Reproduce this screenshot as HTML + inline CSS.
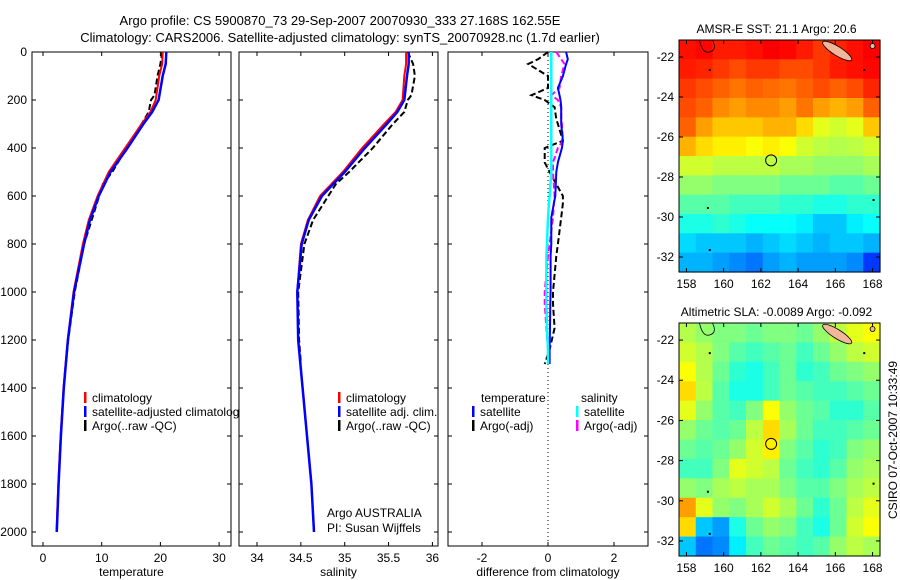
<!DOCTYPE html>
<html><head><meta charset="utf-8"><style>
body{margin:0;background:#fff;}
svg{display:block;font-family:"Liberation Sans",sans-serif;font-size:12px;}
</style></head><body>
<svg id="fig" width="900" height="580" viewBox="0 0 900 580">
<rect x="0" y="0" width="900" height="580" fill="#fff"/>
<text x="340" y="25" text-anchor="middle" font-size="13">Argo profile: CS 5900870_73 29-Sep-2007 20070930_333 27.168S 162.55E</text>
<text x="340" y="42" text-anchor="middle" font-size="13">Climatology: CARS2006. Satellite-adjusted climatology: synTS_20070928.nc (1.7d earlier)</text>
<text transform="translate(897,440) rotate(-90)" text-anchor="middle" font-size="12">CSIRO 07-Oct-2007 10:33:49</text>
<g id="g"></g>
</svg>
<script>
// ---- data ----
const depthTicks=[0,200,400,600,800,1000,1200,1400,1600,1800,2000];
const tempTicks=[0,10,20,30];
const salTicks=[34,34.5,35,35.5,36];
const salTickLabels=["34","34.5","35","35.5","36"];
const diffTicks=[-2,0,2];
const latTicks=[-22,-24,-26,-28,-30,-32];
const lonTicks=[158,160,162,164,166,168];

const climDepth=[0,50,100,200,250,300,400,500,600,700,800,1000,1200,1400,1600,1800,2000];
const tempClim=[20.4,20.3,19.8,19.2,18.3,16.8,14.0,11.2,9.3,7.8,6.8,5.2,4.2,3.5,3.0,2.6,2.3];
const tempSat=[21.0,20.9,20.4,19.7,18.6,17.1,14.4,11.5,9.5,8.0,7.0,5.3,4.25,3.55,3.05,2.65,2.35];
const argoDepth=[0,50,100,180,200,250,300,400,500,550,700,800,1000,1200,1300];
const tempArgo=[20.3,20.0,19.5,19.0,18.4,18.0,16.8,14.2,11.8,10.2,8.3,7.0,5.4,4.3,3.9];
const salClim=[35.70,35.70,35.68,35.66,35.58,35.45,35.20,34.98,34.72,34.58,34.50,34.46,34.47,34.52,34.57,34.62,34.65];
const salSat=[35.73,35.73,35.71,35.68,35.60,35.48,35.23,35.00,34.74,34.59,34.51,34.46,34.47,34.52,34.57,34.62,34.65];
const salArgo=[35.72,35.78,35.80,35.76,35.72,35.68,35.55,35.32,35.05,34.90,34.64,34.54,34.47,34.48,34.50];

const diffDepth=[0,30,50,100,150,180,200,230,280,300,370,400,460,500,600,630,690,800,850,1000,1050,1150,1240,1300];
const dTempSat=[0.55,0.6,0.55,0.45,0.3,0.35,0.38,0.4,0.4,0.4,0.45,0.42,0.3,0.25,0.22,0.18,0.1,0.1,0.08,0.08,0.07,0.06,0.05,0.05];
const dTempArgo=[0,-0.3,-0.6,0,0,-0.5,-0.1,0.2,0.25,0.3,0.45,-0.1,-0.1,0.05,0.45,0.45,0.4,0.3,0.25,0.15,0.15,0.2,0.05,-0.1];
const dSalSat=[0.1,0.1,0.1,0.1,0.1,0.1,0.1,0.1,0.1,0.1,0.1,0.1,0.1,0.1,0.05,0.03,0,-0.03,-0.05,-0.05,-0.05,-0.03,0,0];
const dSalArgo=[0.25,0.4,0.5,0.4,0.35,0.1,0.3,0.4,0.4,0.42,0.45,0.3,0.15,0.15,0.2,0.18,0.15,0.05,0,-0.1,-0.1,-0.05,0,0];

const sstGrid=[
[.86,.87,.85,.85,.86,.88,.87,.85,.82,.84,.86,.88],
[.85,.84,.82,.80,.82,.82,.80,.80,.82,.85,.86,.87],
[.82,.80,.78,.76,.78,.77,.76,.78,.80,.78,.80,.84],
[.80,.78,.74,.72,.74,.74,.72,.76,.72,.70,.72,.78],
[.78,.72,.68,.68,.68,.70,.70,.66,.60,.58,.60,.68],
[.70,.66,.64,.64,.62,.64,.62,.58,.56,.55,.56,.58],
[.58,.58,.56,.56,.56,.56,.54,.54,.52,.52,.52,.54],
[.52,.52,.50,.50,.50,.50,.48,.48,.48,.46,.46,.48],
[.46,.46,.46,.44,.44,.44,.42,.42,.40,.40,.42,.42],
[.40,.40,.42,.40,.38,.38,.38,.36,.32,.32,.36,.38],
[.34,.32,.32,.32,.30,.32,.34,.32,.30,.32,.32,.30],
[.30,.30,.28,.26,.24,.28,.30,.28,.28,.28,.26,.18]];
const slaGrid=[
[.55,.52,.50,.50,.48,.50,.50,.48,.52,.56,.60,.62],
[.58,.55,.50,.46,.44,.46,.48,.44,.48,.52,.56,.58],
[.62,.55,.48,.42,.40,.44,.48,.42,.44,.48,.50,.52],
[.66,.56,.46,.40,.40,.44,.48,.46,.44,.44,.46,.48],
[.60,.52,.46,.44,.50,.62,.52,.48,.46,.42,.42,.46],
[.52,.48,.46,.48,.56,.66,.54,.48,.44,.44,.46,.48],
[.48,.46,.48,.52,.58,.64,.50,.46,.42,.44,.50,.52],
[.44,.44,.50,.60,.58,.56,.48,.44,.42,.46,.52,.54],
[.52,.50,.54,.56,.54,.54,.50,.46,.46,.50,.54,.56],
[.72,.60,.52,.50,.54,.58,.54,.48,.42,.48,.56,.60],
[.66,.32,.28,.40,.48,.52,.50,.44,.40,.48,.58,.62],
[.32,.24,.26,.36,.44,.48,.46,.44,.46,.52,.56,.54]];
const floatLon=162.55, floatLat=-27.17;

// ---- drawing ----
const NS='http://www.w3.org/2000/svg';
const G=document.getElementById('g');
function el(tag,attrs,parent){const e=document.createElementNS(NS,tag);for(const k in attrs)e.setAttribute(k,attrs[k]);(parent||G).appendChild(e);return e;}
const PT=52,PB=546;
const yD=d=>PT+d*0.24;
const xT=v=>43+v*5.87;
const xS=v=>257+(v-34)*87.7;
const xDf=v=>548+v*33;

function panel(name,x0,x1,ticks,labels,xf,title){
  const g=el('g',{});
  
  
  const r=el('rect',{x:x0,y:PT,width:x1-x0,height:PB-PT,fill:'#fff',stroke:'#000','stroke-width':1},g);
  
  
  depthTicks.forEach(d=>{
    el('line',{x1:x0,x2:x0+4,y1:yD(d),y2:yD(d),stroke:'#000'},g);
    el('line',{x1:x1-4,x2:x1,y1:yD(d),y2:yD(d),stroke:'#000'},g);
  });
  ticks.forEach((t,i)=>{
    const x=xf(t);
    el('line',{x1:x,x2:x,y1:PB,y2:PB-4,stroke:'#000'},g);
    el('line',{x1:x,x2:x,y1:PT,y2:PT+4,stroke:'#000'},g);
    const tx=el('text',{x:x,y:562,'text-anchor':'middle'},g);tx.textContent=labels[i];
    
    
  });
  const tt=el('text',{x:(x0+x1)/2,y:576,'text-anchor':'middle'},g);tt.textContent=title;
  
  
  return g;
}
function line(g,xs,ds,xf,color,w,dash,name){
  const pts=xs.map((v,i)=>xf(v).toFixed(1)+','+yD(ds[i]).toFixed(1)).join(' ');
  const p=el('polyline',{points:pts,fill:'none',stroke:color,'stroke-width':w},g);
  if(dash)p.setAttribute('stroke-dasharray',dash);
  
  
}
function legend(g,x,y,color,text,name){
  el('rect',{x:x,y:y-6,width:2.5,height:11,fill:color},g);
  const t=el('text',{x:x+8,y:y+4},g);t.textContent=text;
  
  
}

// Depth labels
depthTicks.forEach(d=>{const t=el('text',{x:27,y:yD(d)+4,'text-anchor':'end'});t.textContent=d;
  
  });

// Panel 1
const p1=panel('temperature-panel',32,231,tempTicks,tempTicks.map(String),xT,'temperature');
line(p1,tempArgo,argoDepth,xT,'#000',2,'6,3','argo-temperature-line');
line(p1,tempClim,climDepth,xT,'#f00',2,null,'climatology-temperature-line');
line(p1,tempSat,climDepth,xT,'#00f',2.5,null,'satellite-temperature-line');
legend(p1,84,398,'#f00','climatology','legend-climatology');
legend(p1,84,412,'#00f','satellite-adjusted climatology','legend-satellite');
legend(p1,84,426,'#000','Argo(..raw -QC)','legend-argo');
// Panel 2
const p2=panel('salinity-panel',239,438,salTicks,salTickLabels,xS,'salinity');
line(p2,salArgo,argoDepth,xS,'#000',2,'6,3','argo-salinity-line');
line(p2,salClim,climDepth,xS,'#f00',2,null,'climatology-salinity-line');
line(p2,salSat,climDepth,xS,'#00f',2.5,null,'satellite-salinity-line');
legend(p2,338,398,'#f00','climatology','legend-climatology');
legend(p2,338,412,'#00f','satellite adj. clim.','legend-satellite');
legend(p2,338,426,'#000','Argo(..raw -QC)','legend-argo');
const a1=el('text',{x:327,y:517},p2);a1.textContent='Argo AUSTRALIA';


const a2=el('text',{x:327,y:532},p2);a2.textContent='PI: Susan Wijffels';


// Panel 3
const p3=panel('difference-panel',448,648,diffTicks,diffTicks.map(String),xDf,'difference from climatology');
el('line',{x1:xDf(0),x2:xDf(0),y1:PT,y2:PB,stroke:'#000','stroke-dasharray':'1,3'},p3);
line(p3,dTempArgo,diffDepth,xDf,'#000',2,'6,3','argo-temp-diff-line');
line(p3,dSalArgo,diffDepth,xDf,'#f0f',2,'6,3','argo-sal-diff-line');
line(p3,dTempSat,diffDepth,xDf,'#00f',2,null,'satellite-temp-diff-line');
line(p3,dSalSat,diffDepth,xDf,'#0ff',2.5,null,'satellite-sal-diff-line');
const lt=el('text',{x:481,y:402},p3);lt.textContent='temperature';


const ls=el('text',{x:581,y:402},p3);ls.textContent='salinity';


legend(p3,472,412,'#00f','satellite','legend-temp-satellite');
legend(p3,472,426,'#000','Argo(-adj)','legend-temp-argo');
legend(p3,576,412,'#0ff','satellite','legend-sal-satellite');
legend(p3,576,426,'#f0f','Argo(-adj)','legend-sal-argo');

// Maps
function jet(v){
  const c=x=>Math.max(0,Math.min(1,x));
  const r=c(1.5-Math.abs(4*v-3)),g=c(1.5-Math.abs(4*v-2)),b=c(1.5-Math.abs(4*v-1));
  return `rgb(${Math.round(r*255)},${Math.round(g*255)},${Math.round(b*255)})`;
}
function map(name,top,bottom,grid,title){
  const L=679,R=880,lon0=157.6,lon1=168.4,lat0=-21.15,lat1=-32.75;
  const mx=lo=>L+(lo-lon0)/(lon1-lon0)*(R-L);
  const my=la=>top+(la-lat0)/(lat1-lat0)*(bottom-top);
  const g=el('g',{});
  
  
  const rows=grid.length,cols=grid[0].length;
  const cw=(R-L)/cols,ch=(bottom-top)/rows;
  grid.forEach((row,i)=>row.forEach((v,j)=>{
    const c=el('rect',{x:(L+j*cw).toFixed(2),y:(top+i*ch).toFixed(2),width:(cw+0.6).toFixed(2),height:(ch+0.6).toFixed(2),fill:jet(v)},g);
    
    
  }));
  // New Caledonia
  const nc=el('ellipse',{cx:mx(166.1),cy:my(-21.7),rx:17,ry:4.5,fill:'#f2b69a',stroke:'#000','stroke-width':0.8,transform:`rotate(32 ${mx(166.1)} ${my(-21.7)})`},g);
  
  
  el('circle',{cx:mx(168),cy:my(-21.45),r:2.5,fill:'#f2b69a',stroke:'#000','stroke-width':0.8},g);
  el('path',{d:`M${mx(158.7)},${top} q3,14 10,12 q8,-2 3,-12`,fill:'none',stroke:'#000','stroke-width':0.8},g);
  [[159.2,-22.6],[167.5,-22.6],[159.1,-29.5],[168,-29.1],[159.2,-31.6]].forEach(p=>el('rect',{x:mx(p[0]),y:my(p[1]),width:2,height:2,fill:'#000'},g));
  const fc=el('circle',{cx:mx(floatLon),cy:my(floatLat),r:5.5,fill:'none',stroke:'#000','stroke-width':1},g);
  
  
  el('rect',{x:L,y:top,width:R-L,height:bottom-top,fill:'none',stroke:'#000'},g);
  latTicks.forEach(la=>{const y=my(la);
    el('line',{x1:L,x2:L+4,y1:y,y2:y,stroke:'#000'},g);el('line',{x1:R-4,x2:R,y1:y,y2:y,stroke:'#000'},g);
    const t=el('text',{x:L-5,y:y+4,'text-anchor':'end'},g);t.textContent=la;
    
    });
  lonTicks.forEach(lo=>{const x=mx(lo);
    el('line',{x1:x,x2:x,y1:bottom,y2:bottom-4,stroke:'#000'},g);el('line',{x1:x,x2:x,y1:top,y2:top+4,stroke:'#000'},g);
    const t=el('text',{x:x,y:bottom+16,'text-anchor':'middle'},g);t.textContent=lo;
    
    });
  const tt=el('text',{x:(L+R)/2-3,y:top-7,'text-anchor':'middle'},g);tt.textContent=title;
  
  
}
map('sst-map',40,272,sstGrid,'AMSR-E SST: 21.1 Argo: 20.6');
map('sla-map',323,556,slaGrid,'Altimetric SLA: -0.0089 Argo: -0.092');
</script>
</body></html>
